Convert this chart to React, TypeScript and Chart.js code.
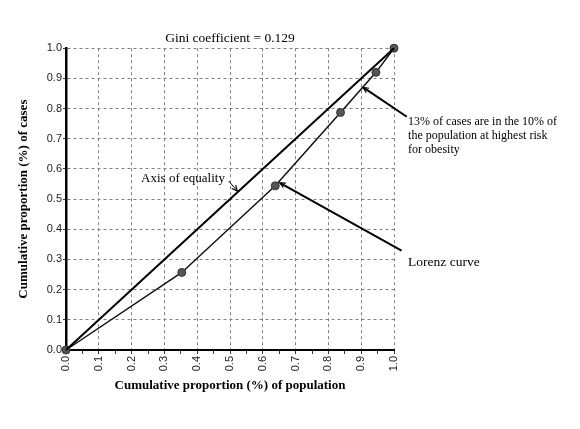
import React, { useEffect, useRef } from "react";
import { Chart, registerables } from "chart.js";

Chart.register(...registerables);

const titleText = "Gini coefficient = 0.129";
const xTitle = "Cumulative proportion (%) of population";
const yTitle = "Cumulative proportion (%) of cases";

const equalityX = [0, 1];
const equalityY = [0, 1];

const lorenzX = [0, 0.353, 0.638, 0.837, 0.945, 1];
const lorenzY = [0, 0.257, 0.544, 0.787, 0.92, 1];

const equalityLabel = "Axis of equality";
const lorenzLabel = "Lorenz curve";
const riskLabel = [
  "13% of cases are in the 10% of",
  "the population at highest risk",
  "for obesity",
];

const serif = "'Liberation Serif', 'Times New Roman', serif";
const sans = "'Liberation Sans', Arial, sans-serif";

function drawArrow(ctx: CanvasRenderingContext2D, x1: number, y1: number, x2: number, y2: number, width: number) {
  ctx.save();
  ctx.strokeStyle = "#000";
  ctx.lineWidth = width;
  ctx.beginPath();
  ctx.moveTo(x1, y1);
  ctx.lineTo(x2, y2);
  ctx.stroke();
  const ang = Math.atan2(y2 - y1, x2 - x1);
  const len = 6;
  ctx.lineWidth = 1.2;
  ctx.beginPath();
  ctx.moveTo(x2 - len * Math.cos(ang - 0.45), y2 - len * Math.sin(ang - 0.45));
  ctx.lineTo(x2, y2);
  ctx.lineTo(x2 - len * Math.cos(ang + 0.45), y2 - len * Math.sin(ang + 0.45));
  ctx.stroke();
  ctx.restore();
}

const annotationPlugin = {
  id: "annotations",
  afterDatasetsDraw(chart: any) {
    const { ctx, scales } = chart;
    const xs = scales.x;
    const ys = scales.y;
    const px = (v: number) => xs.getPixelForValue(v);
    const py = (v: number) => ys.getPixelForValue(v);
    ctx.save();
    ctx.fillStyle = "#000";
    ctx.textBaseline = "middle";
    ctx.textAlign = "left";

    ctx.font = `13px ${serif}`;
    ctx.fillText(equalityLabel, px(0.229), py(0.569));
    drawArrow(ctx, px(0.496), py(0.56), px(0.522), py(0.527), 1);

    ctx.font = `13.5px ${serif}`;
    ctx.fillText(lorenzLabel, px(1.043), py(0.291));
    drawArrow(ctx, px(1.023), py(0.329), px(0.652), py(0.554), 2);

    ctx.font = `12px ${serif}`;
    const y0 = py(0.755);
    riskLabel.forEach((line, i) => {
      ctx.fillText(line, px(1.043), y0 + i * 14);
    });
    drawArrow(ctx, px(1.039), py(0.773), px(0.906), py(0.87), 2);
    ctx.restore();
  },
};

export default function App() {
  const ref = useRef<HTMLCanvasElement | null>(null);
  useEffect(() => {
    if (!ref.current) return;
    const chart = new Chart(ref.current, {
      type: "line",
      data: {
        datasets: [
          {
            label: "Axis of equality",
            data: equalityX.map((x, i) => ({ x, y: equalityY[i] })),
            borderColor: "#000",
            borderWidth: 2,
            pointRadius: 0,
            fill: false,
            clip: false,
          },
          {
            label: "Lorenz curve",
            data: lorenzX.map((x, i) => ({ x, y: lorenzY[i] })),
            borderColor: "#111",
            borderWidth: 1.5,
            pointRadius: 4,
            pointBackgroundColor: "#555",
            pointBorderColor: "#333",
            pointBorderWidth: 1,
            fill: false,
            clip: false,
          },
        ],
      },
      options: {
        responsive: false,
        animation: false,
        layout: { padding: { left: 0, right: 186, top: 30, bottom: 0 } },
        plugins: {
          legend: { display: false },
          tooltip: { enabled: false },
          title: {
            display: true,
            text: titleText,
            fullSize: false,
            color: "#000",
            font: { family: serif, size: 13.5, weight: "normal" },
            padding: { top: 0, bottom: 2 },
          },
        },
        scales: {
          x: {
            type: "linear",
            min: 0,
            max: 1,
            afterFit: (s: any) => {
              s.height = 79;
            },
            ticks: {
              stepSize: 0.05,
              autoSkip: false,
              minRotation: 90,
              maxRotation: 90,
              color: "#222",
              font: { family: sans, size: 11 },
              padding: 2,
              callback: (v: any) => {
                const n = Math.round(Number(v) * 100);
                return n % 10 === 0 ? (n / 100).toFixed(1) : "";
              },
            },
            grid: {
              color: (c: any) => {
                const n = Math.round(Number(c.tick?.value ?? 0) * 100);
                return n % 10 === 0 ? "#808080" : "rgba(0,0,0,0)";
              },
              tickColor: "#333",
              tickLength: 4,
              lineWidth: 1,
            },
            border: { display: true, color: "#000", width: 2, dash: [3, 3] },
            title: {
              display: true,
              text: xTitle,
              color: "#000",
              font: { family: serif, size: 13, weight: "bold" },
              padding: { top: 0, bottom: 36 },
            },
          },
          y: {
            type: "linear",
            min: 0,
            max: 1,
            afterFit: (s: any) => {
              s.width = 66;
            },
            ticks: {
              stepSize: 0.1,
              color: "#222",
              font: { family: sans, size: 11 },
              padding: 1,
              callback: (v: any) => Number(v).toFixed(1),
            },
            grid: {
              color: "#808080",
              tickColor: "#333",
              tickLength: 3,
              lineWidth: 1,
            },
            border: { display: true, color: "#000", width: 2.5, dash: [3, 3] },
            title: {
              display: true,
              text: yTitle,
              color: "#000",
              font: { family: serif, size: 13, weight: "bold" },
              padding: { top: 16, bottom: 0 },
            },
          },
        },
      },
      plugins: [annotationPlugin],
    });
    return () => chart.destroy();
  }, []);
  return (
    <div style={{ position: "fixed", left: 0, top: 0, width: 580, height: 429, background: "#fff" }}>
      <canvas ref={ref} width={580} height={429} />
    </div>
  );
}
